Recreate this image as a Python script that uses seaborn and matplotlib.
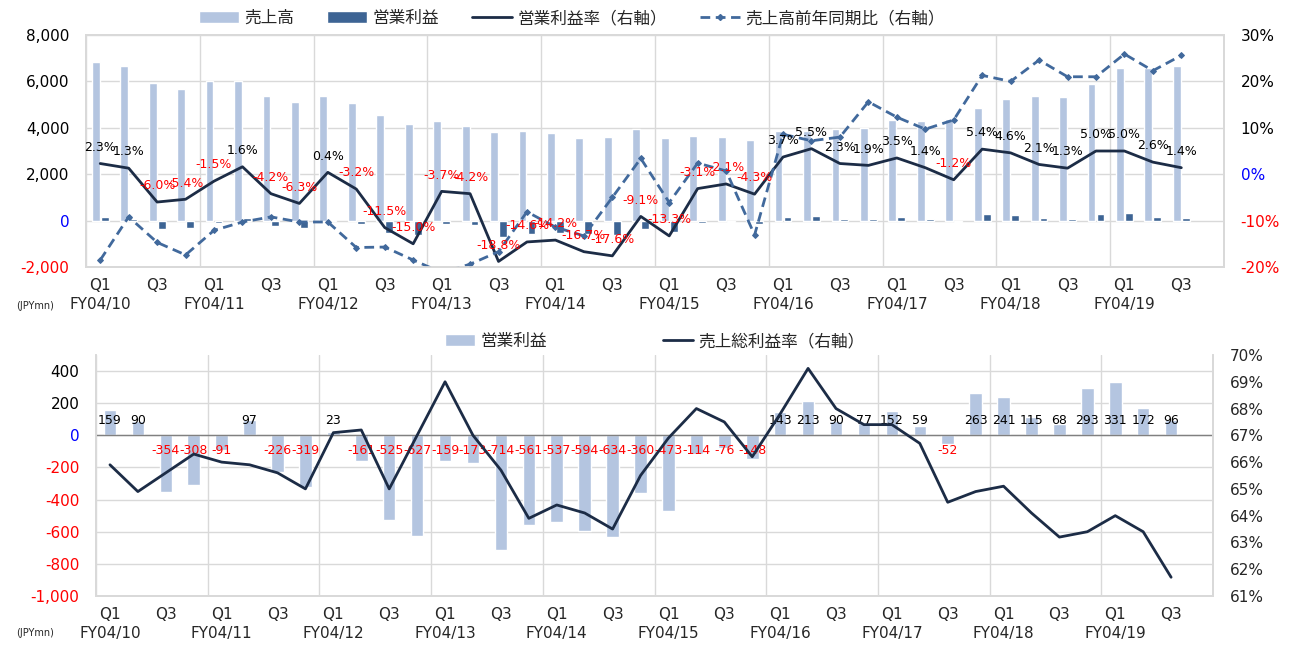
import matplotlib

matplotlib.use("Agg")
import matplotlib.pyplot as plt
import numpy as np
import pandas as pd
import seaborn as sns
from matplotlib.lines import Line2D
from matplotlib.patches import Patch

FISCAL_YEARS = ["FY04/10", "FY04/11", "FY04/12", "FY04/13", "FY04/14",
                "FY04/15", "FY04/16", "FY04/17", "FY04/18", "FY04/19"]
QUARTERS = ["Q1", "Q2", "Q3", "Q4"]

# 売上高 (JPYmn)
SALES = [6840, 6680, 5920, 5680, 6020, 6020, 5390, 5100,
         5390, 5060, 4565, 4180, 4300, 4095, 3800, 3845,
         3785, 3560, 3605, 3950, 3560, 3665, 3620, 3480,
         3870, 3880, 3950, 4010, 4340, 4300, 4385, 4870,
         5245, 5390, 5345, 5880, 6595, 6580, 6680]
# 営業利益 (JPYmn)
OP_PROFIT = [159, 90, -354, -308, -91, 97, -226, -319,
             23, -161, -525, -627, -159, -173, -714, -561,
             -537, -594, -634, -360, -473, -114, -76, -148,
             143, 213, 90, 77, 152, 59, -52, 263,
             241, 115, 68, 293, 331, 172, 96]
# 営業利益率 (%)
OP_MARGIN = [2.3, 1.3, -6.0, -5.4, -1.5, 1.6, -4.2, -6.3,
             0.4, -3.2, -11.5, -15.0, -3.7, -4.2, -18.8, -14.6,
             -14.2, -16.7, -17.6, -9.1, -13.3, -3.1, -2.1, -4.3,
             3.7, 5.5, 2.3, 1.9, 3.5, 1.4, -1.2, 5.4,
             4.6, 2.1, 1.3, 5.0, 5.0, 2.6, 1.4]
# 売上高前年同期比 (%)
SALES_YOY = [-18.5, -9.2, -14.7, -17.4, -12.1, -10.3, -9.2, -10.3,
             -10.3, -15.8, -15.7, -18.5, -21.2, -19.4, -16.7, -8.1,
             -11.4, -13.3, -5.0, 3.4, -6.1, 2.4, 0.7, -13.1,
             8.6, 7.2, 8.0, 15.6, 12.3, 9.7, 11.7, 21.3,
             20.0, 24.6, 21.0, 21.0, 25.9, 22.3, 25.6]
# 売上総利益率 (%)
GROSS_MARGIN = [65.9, 64.9, 65.6, 66.3, 66.0, 65.9, 65.6, 65.0,
                67.1, 67.2, 65.0, 67.0, 69.0, 67.0, 65.7, 63.9,
                64.4, 64.1, 63.5, 65.5, 66.9, 68.0, 67.5, 66.2,
                67.8, 69.5, 68.0, 67.4, 67.4, 66.7, 64.5, 64.9,
                65.1, 64.1, 63.2, 63.4, 64.0, 63.4, 61.7]

LIGHT = "#B4C5E0"
DARK = "#3D6494"
NAVY = "#1C2C46"
DASH_BLUE = "#41699C"
GRID = "#D9D9D9"

sns.set_theme(style="white")
plt.rcParams["font.family"] = ["DejaVu Sans", "Noto Sans CJK JP"]

n = len(SALES)
periods = [f"{FISCAL_YEARS[i // 4]} {QUARTERS[i % 4]}" for i in range(n)]
xs = np.arange(n)
tick_pos = list(range(0, n, 2))
tick_lab = [f"Q1\n{FISCAL_YEARS[i // 4]}" if i % 4 == 0 else "Q3" for i in tick_pos]


def color_by_sign(labels):
    for lab in labels:
        v = lab.get_position()[1]
        lab.set_color("blue" if v == 0 else ("red" if v < 0 else "black"))


def style_axes(ax, ax2, top_spine=True):
    ax.set_xlim(-0.5, 39.5)
    ax.set_xlabel("")
    ax.set_ylabel("")
    ax2.set_ylabel("")
    ax.set_axisbelow(True)
    ax.yaxis.grid(True, color=GRID, lw=1)
    for k in range(11):
        ax.axvline(-0.5 + 4 * k, color=GRID, lw=1, zorder=0)
    for a in (ax, ax2):
        for s in a.spines.values():
            s.set_color(GRID)
        a.spines["top"].set_visible(top_spine)
    ax.set_xticks(tick_pos)
    ax.set_xticklabels(tick_lab, fontsize=11, linespacing=1.3)
    ax.tick_params(axis="x", length=0, pad=8)
    ax.tick_params(axis="y", length=0, pad=12, labelsize=11)
    ax2.tick_params(axis="y", length=0, pad=12, labelsize=11)


fig = plt.figure(figsize=(12.93, 6.46), dpi=100)

# ---------- top chart ----------
ax = fig.add_axes([86 / 1293, 1 - 267 / 646, 1138 / 1293, 232 / 646])
bars = pd.DataFrame({
    "period": periods * 2,
    "series": ["売上高"] * n + ["営業利益"] * n,
    "value": SALES + OP_PROFIT,
})
sns.barplot(data=bars, x="period", y="value", hue="series", order=periods,
            palette=[LIGHT, DARK], width=0.63, gap=0.12, saturation=1,
            legend=False, ax=ax)
ax.set_ylim(-2000, 8000)
ax.set_yticks(range(-2000, 8001, 2000))
ax.set_yticklabels([f"{v:,}" for v in range(-2000, 8001, 2000)])

ax2 = ax.twinx()
sns.lineplot(x=xs, y=OP_MARGIN, color=NAVY, lw=2, ax=ax2)
sns.lineplot(x=xs, y=SALES_YOY, color=DASH_BLUE, lw=2, linestyle=(0, (3.5, 2)),
             marker="D", markersize=3, markeredgecolor=DASH_BLUE, ax=ax2)
ax2.set_ylim(-20, 30)
ax2.set_yticks(range(-20, 31, 10))
ax2.set_yticklabels([f"{v}%" for v in range(-20, 31, 10)])
style_axes(ax, ax2)
color_by_sign(ax.get_yticklabels())
color_by_sign(ax2.get_yticklabels())

for i, v in enumerate(OP_MARGIN):
    ax2.annotate(f"{v:.1f}%", (i, v), xytext=(0, 7), textcoords="offset points",
                 ha="center", va="bottom", fontsize=9,
                 color="red" if v < 0 else "black")

fig.legend(
    handles=[Patch(facecolor=LIGHT), Patch(facecolor=DARK),
             Line2D([0], [0], color=NAVY, lw=2),
             Line2D([0], [0], color=DASH_BLUE, lw=2, linestyle=(0, (3.5, 2)),
                    marker="D", markersize=3)],
    labels=["売上高", "営業利益", "営業利益率（右軸）", "売上高前年同期比（右軸）"],
    loc="center", bbox_to_anchor=(572 / 1293, 1 - 18 / 646), ncol=4,
    frameon=False, fontsize=12, handlelength=2.4, handletextpad=0.3,
    columnspacing=2.0)
fig.text(35 / 1293, 1 - 306 / 646, "(JPYmn)", fontsize=7, ha="center", va="center")

# ---------- bottom chart ----------
bx = fig.add_axes([96 / 1293, 1 - 596 / 646, 1117 / 1293, 241 / 646])
sns.barplot(x=periods, y=OP_PROFIT, order=periods, color=LIGHT, width=0.45,
            saturation=1, ax=bx)
bx.set_ylim(-1000, 500)
bx.set_yticks(range(-1000, 401, 200))
bx.set_yticklabels([f"{v:,}" for v in range(-1000, 401, 200)])
bx.axhline(0, color="#808080", lw=1, zorder=1)

bx2 = bx.twinx()
sns.lineplot(x=xs, y=GROSS_MARGIN, color=NAVY, lw=2, ax=bx2)
bx2.set_ylim(61, 70)
bx2.set_yticks(range(61, 71))
bx2.set_yticklabels([f"{v}%" for v in range(61, 71)])
style_axes(bx, bx2, top_spine=False)
color_by_sign(bx.get_yticklabels())

for i, v in enumerate(OP_PROFIT):
    bx.annotate(f"{v}", (i, 0), xytext=(0, 11 if v >= 0 else -11),
                textcoords="offset points", ha="center", va="center",
                fontsize=9, color="red" if v < 0 else "black")

fig.legend(
    handles=[Patch(facecolor=LIGHT), Line2D([0], [0], color=NAVY, lw=2)],
    labels=["営業利益", "売上総利益率（右軸）"],
    loc="center", bbox_to_anchor=(655 / 1293, 1 - 341 / 646), ncol=2,
    frameon=False, fontsize=12, handlelength=1.8, handletextpad=0.3,
    columnspacing=7.0)
fig.text(35 / 1293, 1 - 633 / 646, "(JPYmn)", fontsize=7, ha="center", va="center")

fig.savefig("out.png", dpi=100)
